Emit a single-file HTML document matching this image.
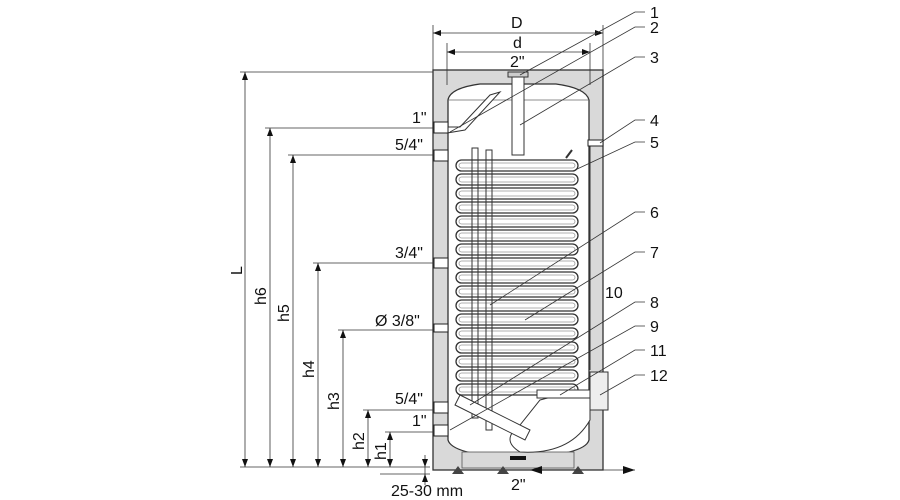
<!DOCTYPE html>
<html><head><meta charset="utf-8"><style>
html,body{margin:0;padding:0;background:#fff;width:900px;height:500px;overflow:hidden}
text{font-family:"Liberation Sans",sans-serif;fill:#111}
</style></head><body>
<svg width="900" height="500" viewBox="0 0 900 500" xmlns="http://www.w3.org/2000/svg">
<defs>
<g id="c"><rect x="456" y="0" width="122" height="11" rx="5.5" fill="#fff" stroke="#333" stroke-width="1.3"/><rect x="459" y="3" width="116" height="5" rx="2.5" fill="none" stroke="#999" stroke-width="0.8"/></g>
</defs>
<rect x="433" y="70" width="170" height="400" fill="#d9d9d9" stroke="#333" stroke-width="1.3"/>
<path d="M448 100 Q450 88 480 84 L556 84 Q586 88 589 100 L589 440 Q585 455 518 458 Q452 455 448 440 Z" fill="#fff" stroke="#333" stroke-width="1.3"/>
<line x1="448" y1="100" x2="589" y2="100" stroke="#666" stroke-width="0.8"/>
<rect x="462" y="452" width="112" height="16" fill="#d9d9d9" stroke="#555" stroke-width="0.8"/>
<rect x="510" y="456" width="16" height="4" fill="#111"/>
<rect x="508" y="72" width="20" height="5" fill="#ccc" stroke="#333"/>
<rect x="512" y="77" width="12" height="78" fill="#fff" stroke="#333"/>
<path d="M447 127 L460 127 L490 95 L500 92 L465 130 L447 133 Z" fill="#fff" stroke="#333"/>
<use href="#c" y="160"/><use href="#c" y="174"/><use href="#c" y="188"/><use href="#c" y="202"/>
<use href="#c" y="216"/><use href="#c" y="230"/><use href="#c" y="244"/><use href="#c" y="258"/>
<use href="#c" y="272"/><use href="#c" y="286"/><use href="#c" y="300"/><use href="#c" y="314"/>
<use href="#c" y="328"/><use href="#c" y="342"/><use href="#c" y="356"/><use href="#c" y="370"/>
<use href="#c" y="384"/>
<rect x="472" y="148" width="6" height="270" fill="none" stroke="#333"/>
<rect x="486" y="150" width="6" height="280" fill="none" stroke="#333"/>
<path d="M566 158 L572 150" stroke="#333" fill="none" stroke-width="2"/>
<path d="M540 400 Q570 392 590 395 L590 420 Q570 455 520 452 Q500 440 520 425 Z" fill="#fff" stroke="#333"/>
<path d="M460 395 L530 430 L525 440 L455 405 Z" fill="#fff" stroke="#333"/>
<rect x="537" y="390" width="55" height="8" fill="#fff" stroke="#333"/>
<rect x="590" y="372" width="18" height="38" fill="#eee" stroke="#333"/>
<line x1="590" y1="145" x2="590" y2="370" stroke="#333"/>
<g fill="#fff" stroke="#222">
<rect x="434" y="122" width="14" height="11"/><rect x="434" y="150" width="14" height="11"/>
<rect x="434" y="258" width="14" height="10"/><rect x="434" y="324" width="14" height="8"/>
<rect x="434" y="402" width="14" height="11"/><rect x="434" y="425" width="14" height="11"/>
<rect x="588" y="140" width="15" height="6"/>
</g>
<g fill="#444"><path d="M452 474 L458 466 L464 474Z"/><path d="M497 474 L503 466 L509 474Z"/><path d="M572 474 L578 466 L584 474Z"/></g>
<g stroke="#333" stroke-width="0.8" fill="none">
<line x1="433" y1="25" x2="433" y2="70"/><line x1="603" y1="25" x2="603" y2="70"/>
<line x1="433" y1="33" x2="603" y2="33"/>
<line x1="447" y1="43" x2="447" y2="85"/><line x1="590" y1="43" x2="590" y2="85"/>
<line x1="447" y1="52" x2="590" y2="52"/>
<line x1="240" y1="72" x2="433" y2="72"/>
<line x1="265" y1="128" x2="434" y2="128"/>
<line x1="288" y1="155" x2="434" y2="155"/>
<line x1="313" y1="263" x2="434" y2="263"/>
<line x1="338" y1="330" x2="434" y2="330"/>
<line x1="363" y1="410" x2="434" y2="410"/>
<line x1="385" y1="432" x2="434" y2="432"/>
<line x1="240" y1="467" x2="430" y2="467"/>
<line x1="245" y1="72" x2="245" y2="467"/>
<line x1="270" y1="128" x2="270" y2="467"/>
<line x1="293" y1="155" x2="293" y2="467"/>
<line x1="318" y1="263" x2="318" y2="467"/>
<line x1="343" y1="330" x2="343" y2="467"/>
<line x1="368" y1="410" x2="368" y2="467"/>
<line x1="390" y1="432" x2="390" y2="467"/>
<line x1="425" y1="455" x2="425" y2="485"/>
<line x1="380" y1="474" x2="430" y2="474"/>
<line x1="520" y1="470" x2="635" y2="470"/>
</g>
<g fill="#111">
<path d="M433 33 l8 -3 v6z"/><path d="M603 33 l-8 -3 v6z"/>
<path d="M447 52 l8 -3 v6z"/><path d="M590 52 l-8 -3 v6z"/>
<path d="M245 72 l-3 8 h6z"/><path d="M270 128 l-3 8 h6z"/><path d="M293 155 l-3 8 h6z"/>
<path d="M318 263 l-3 8 h6z"/><path d="M343 330 l-3 8 h6z"/><path d="M368 410 l-3 8 h6z"/>
<path d="M390 432 l-3 8 h6z"/>
<path d="M245 467 l-3 -8 h6z"/><path d="M270 467 l-3 -8 h6z"/><path d="M293 467 l-3 -8 h6z"/>
<path d="M318 467 l-3 -8 h6z"/><path d="M343 467 l-3 -8 h6z"/><path d="M368 467 l-3 -8 h6z"/><path d="M390 467 l-3 -8 h6z"/>
<path d="M425 467 l-3 -8 h6z"/><path d="M425 474 l-3 8 h6z"/>
<path d="M530 470 l12 -4 v8z"/><path d="M635 470 l-12 -4 v8z"/>
</g>
<g stroke="#333" stroke-width="0.8" fill="none">
<polyline points="645,12 635,12 520,75"/>
<polyline points="645,27 635,27 450,132"/>
<polyline points="645,57 635,57 520,125"/>
<polyline points="645,120 635,120 600,143"/>
<polyline points="645,142 635,142 575,170"/>
<polyline points="645,212 635,212 490,305"/>
<polyline points="645,252 635,252 525,320"/>
<polyline points="645,302 635,302 470,405"/>
<polyline points="645,326 635,326 450,430"/>
<polyline points="645,350 635,350 560,395"/>
<polyline points="645,375 635,375 600,395"/>
</g>
<g font-size="16">
<text x="650" y="18">1</text><text x="650" y="33">2</text><text x="650" y="63">3</text>
<text x="650" y="126">4</text><text x="650" y="148">5</text><text x="650" y="218">6</text>
<text x="650" y="258">7</text><text x="605" y="298">10</text><text x="650" y="308">8</text>
<text x="650" y="332">9</text><text x="650" y="356">11</text><text x="650" y="381">12</text>
<text x="511" y="28">D</text><text x="513" y="48">d</text><text x="510" y="67">2"</text>
<text x="412" y="123">1"</text><text x="395" y="150">5/4"</text><text x="395" y="258">3/4"</text>
<text x="375" y="326">Ø 3/8"</text><text x="395" y="404">5/4"</text><text x="412" y="426">1"</text>
<text x="511" y="490">2"</text><text x="391" y="496">25-30 mm</text>
<text transform="translate(242,275) rotate(-90)">L</text>
<text transform="translate(266,305) rotate(-90)">h6</text>
<text transform="translate(289,322) rotate(-90)">h5</text>
<text transform="translate(314,378) rotate(-90)">h4</text>
<text transform="translate(339,410) rotate(-90)">h3</text>
<text transform="translate(364,450) rotate(-90)">h2</text>
<text transform="translate(386,460) rotate(-90)">h1</text>
</g>
</svg>
</body></html>
